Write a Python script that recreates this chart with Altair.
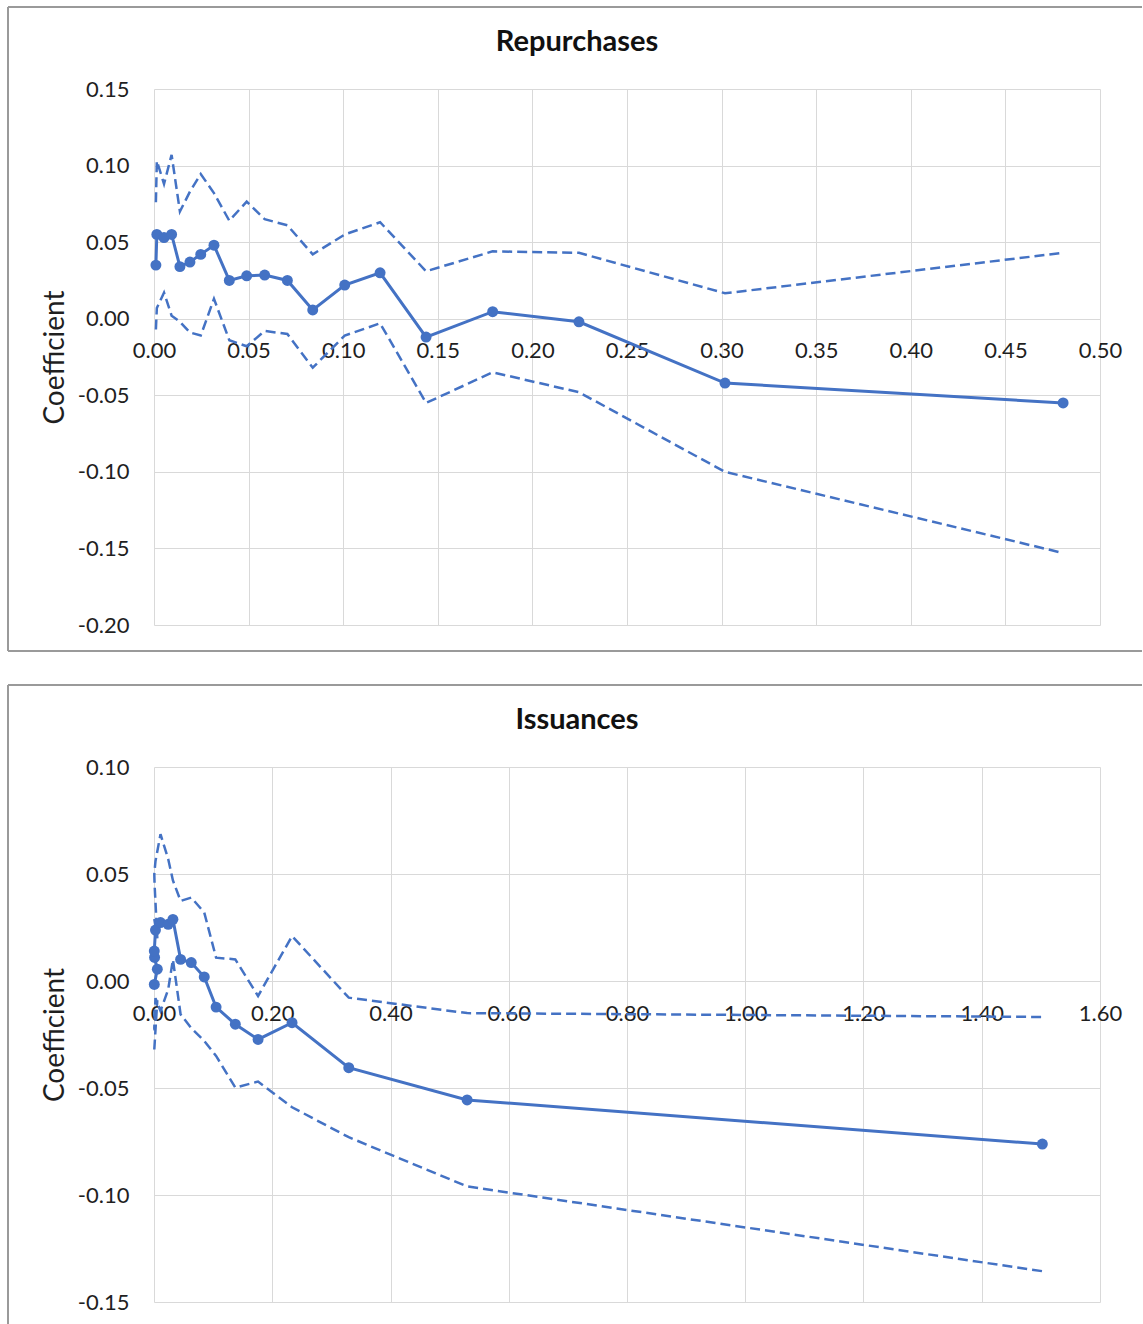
import altair as alt
import pandas as pd

# ---------------- data: Repurchases ----------------
rep_x = [0.001, 0.0015, 0.0053, 0.0093, 0.0137, 0.019, 0.0247, 0.0317, 0.0398, 0.049,
         0.0585, 0.0705, 0.0839, 0.1008, 0.1195, 0.1438, 0.179, 0.2246, 0.3018, 0.4805]
rep_coef = [0.035, 0.055, 0.053, 0.055, 0.034, 0.037, 0.042, 0.048, 0.025, 0.028,
            0.0285, 0.025, 0.0057, 0.022, 0.030, -0.012, 0.0046, -0.002, -0.042, -0.055]
rep_upper = [0.076, 0.103, 0.088, 0.107, 0.070, 0.083, 0.0945, 0.082, 0.064, 0.0765,
             0.065, 0.061, 0.042, 0.055, 0.063, 0.031, 0.044, 0.043, 0.0166, 0.043]
rep_lower = [-0.007, 0.007, 0.017, 0.002, -0.002, -0.009, -0.011, 0.013, -0.014, -0.018,
             -0.008, -0.010, -0.032, -0.011, -0.003, -0.055, -0.035, -0.048, -0.100, -0.153]

# ---------------- data: Issuances ----------------
iss_x = [0.0005, 0.0056, 0.001, 0.0005, 0.0025, 0.011, 0.024, 0.032, 0.045, 0.063,
         0.085, 0.105, 0.1375, 0.176, 0.2335, 0.3294, 0.5296, 1.5025]
iss_coef = [-0.0016, 0.0055, 0.011, 0.014, 0.0238, 0.0273, 0.0265, 0.0288, 0.0101, 0.0086,
            0.0019, -0.0122, -0.0202, -0.0273, -0.0195, -0.0405, -0.0556, -0.0762]
iss_upper = [0.029, 0.020, 0.045, 0.050, 0.056, 0.0686, 0.057, 0.047, 0.0374, 0.039,
             0.032, 0.0109, 0.0101, -0.007, 0.021, -0.0078, -0.015, -0.0168]
iss_lower = [-0.032, -0.009, -0.023, -0.022, -0.008, -0.014, -0.004, 0.010, -0.0156, -0.022,
             -0.028, -0.035, -0.0498, -0.047, -0.059, -0.073, -0.096, -0.1356]

rep_xticks = [0.0, 0.05, 0.10, 0.15, 0.20, 0.25, 0.30, 0.35, 0.40, 0.45, 0.50]
rep_yticks = [-0.20, -0.15, -0.10, -0.05, 0.0, 0.05, 0.10, 0.15]
iss_xticks = [0.0, 0.2, 0.4, 0.6, 0.8, 1.0, 1.2, 1.4, 1.6]
iss_yticks = [-0.15, -0.10, -0.05, 0.0, 0.05, 0.10]

BLUE = "#4472C4"
GRID = "#D9D9D9"
TXT = "#1f1f1f"
FONT = "Lato"
FRAME = "#9a9a9a"
W = 946


def make_df(xs, coef, up, lo):
    return pd.DataFrame({"idx": list(range(len(xs))), "x": xs, "coef": coef,
                         "upper": up, "lower": lo})


def frame_edges(left, right, top, bottom):
    one = pd.DataFrame({"f": [0]})
    rule = dict(color=FRAME, strokeWidth=2)
    l = alt.Chart(one).mark_rule(**rule).encode(
        x=alt.value(left), y=alt.value(top), y2=alt.value(bottom))
    t = alt.Chart(one).mark_rule(**rule).encode(
        x=alt.value(left), x2=alt.value(right), y=alt.value(top))
    b = alt.Chart(one).mark_rule(**rule).encode(
        x=alt.value(left), x2=alt.value(right), y=alt.value(bottom))
    return [l, t, b]


def panel(df, title, xticks, yticks, height, frame_bottom):
    y_min, y_max = yticks[0], yticks[-1]
    y0 = height * y_max / (y_max - y_min)
    x_axis = alt.Axis(values=xticks, format=".2f", labelFlush=False, labelOverlap=False,
                      grid=True, gridColor=GRID, gridWidth=1, domain=False, ticks=False,
                      labelPadding=22, labelFontSize=22, labelFont=FONT, labelColor=TXT,
                      labelBaseline="top", offset=-(height - y0), title=None)
    y_axis = alt.Axis(values=yticks,
                      labelExpr="replace(format(datum.value, '.2f'), '\u2212', '-')",
                      labelFlush=False, labelOverlap=False, grid=True, gridColor=GRID,
                      gridWidth=1, domain=False, ticks=False, labelPadding=25,
                      labelFontSize=22, labelFont=FONT, labelColor=TXT,
                      title="Coefficient", titleFont=FONT, titleFontSize=28,
                      titleFontWeight="normal", titleColor=TXT, titleAngle=270,
                      titleX=-99, titleY=height / 2, titleAlign="center",
                      titleBaseline="middle")
    xs = alt.Scale(domain=[xticks[0], xticks[-1]], nice=False, zero=False)
    ys = alt.Scale(domain=[y_min, y_max], nice=False, zero=False)
    X = alt.X("x:Q", scale=xs, axis=x_axis)

    base = alt.Chart(df)
    up = base.mark_line(color=BLUE, strokeWidth=2.5, strokeDash=[10, 5]).encode(
        x=X, y=alt.Y("upper:Q", scale=ys, axis=y_axis), order="idx:Q")
    lo = base.mark_line(color=BLUE, strokeWidth=2.5, strokeDash=[10, 5]).encode(
        x=X, y=alt.Y("lower:Q", scale=ys, axis=y_axis), order="idx:Q")
    line = base.mark_line(color=BLUE, strokeWidth=3).encode(
        x=X, y=alt.Y("coef:Q", scale=ys, axis=y_axis), order="idx:Q")
    pts = base.mark_point(color=BLUE, filled=True, size=120, opacity=1).encode(
        x=X, y=alt.Y("coef:Q", scale=ys, axis=y_axis))
    layers = frame_edges(-146, 988, -82, frame_bottom) + [up, lo, line, pts]
    return alt.layer(*layers).properties(
        width=W, height=height,
        title=alt.TitleParams(title, font=FONT, fontSize=29, fontWeight="bold",
                              color="#111111", frame="group", anchor="middle",
                              dx=-50, offset=-51))


top = panel(make_df(rep_x, rep_coef, rep_upper, rep_lower), "Repurchases",
            rep_xticks, rep_yticks, 536, 562)
bottom = panel(make_df(iss_x, iss_coef, iss_upper, iss_lower), "Issuances",
               iss_xticks, iss_yticks, 535, 600)

chart = alt.vconcat(top, bottom, spacing=32).properties(
    padding={"left": 7, "top": 6, "right": 0, "bottom": 0},
    background="white",
).configure_view(stroke=None)

chart.save("out.html", embed_options={"renderer": "svg", "actions": False})
